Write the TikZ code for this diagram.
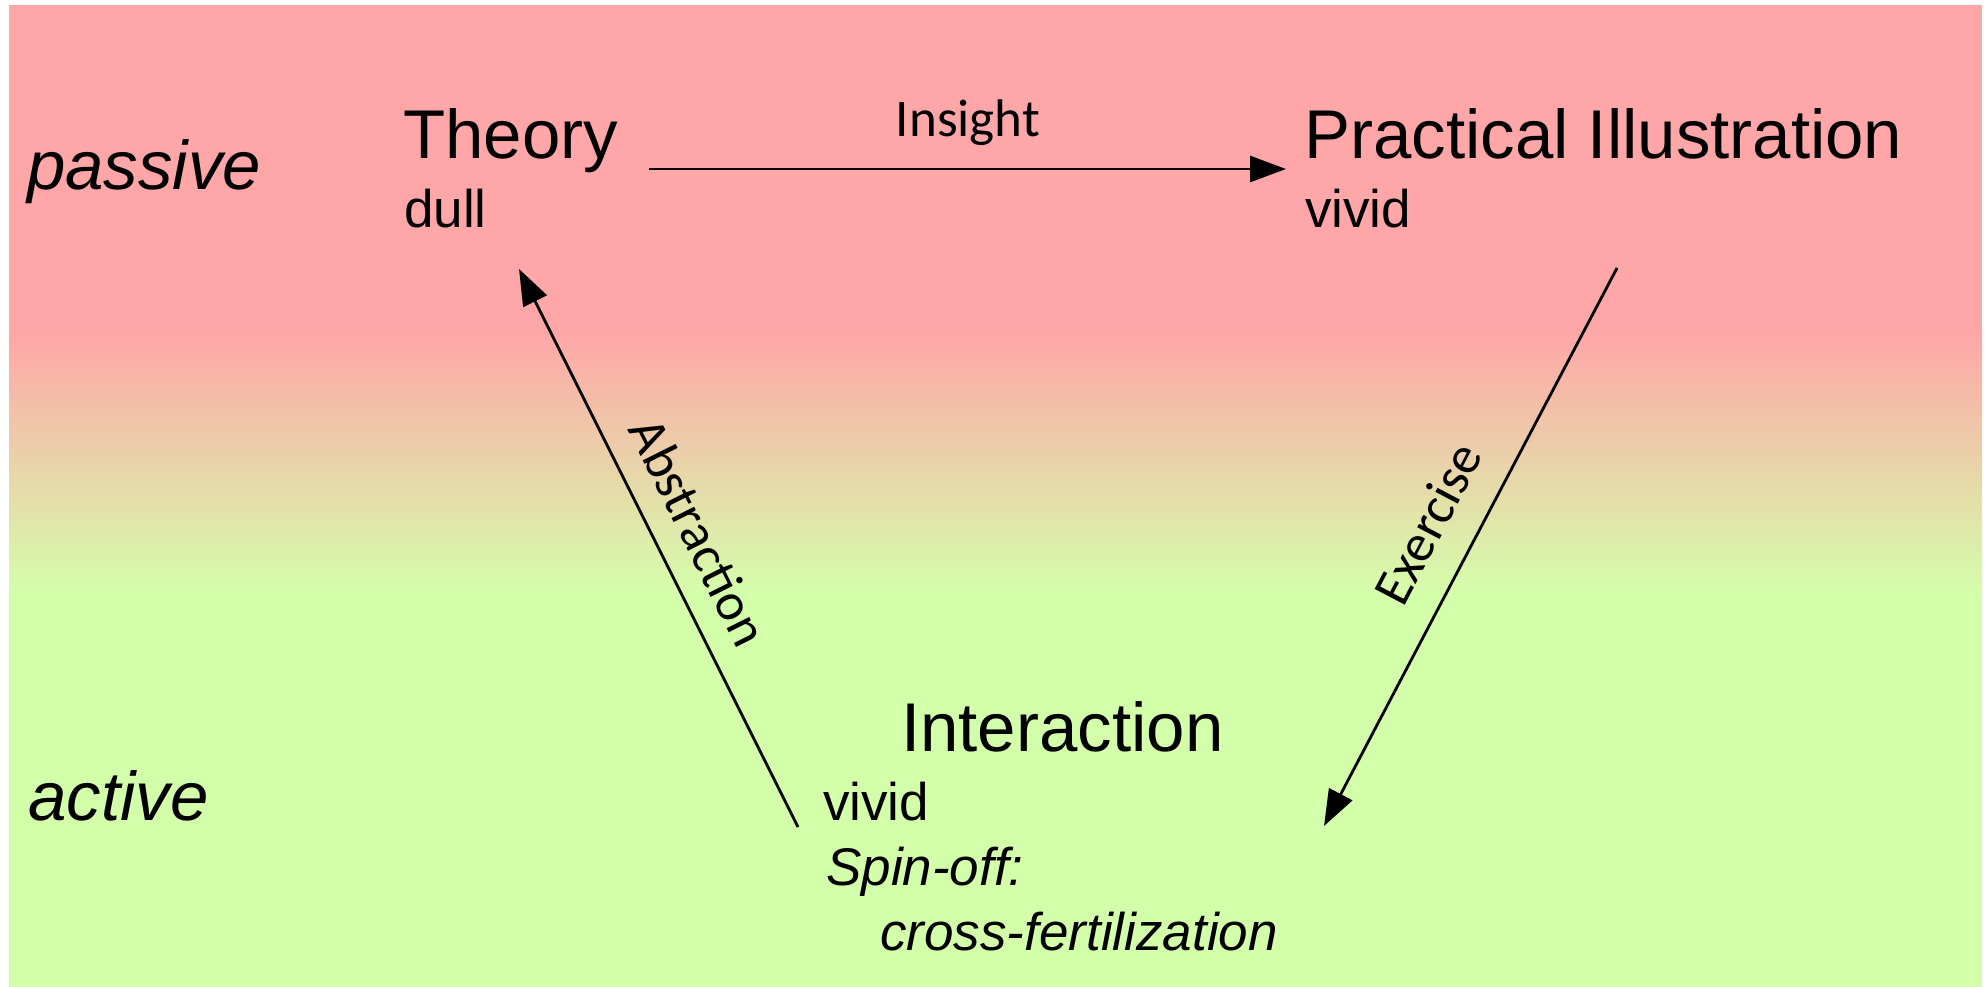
\documentclass[tikz,border=0pt]{standalone}
\usepackage{fontspec}
\setmainfont{Liberation Sans}
\newfontfamily\lblfont{Carlito}
\usetikzlibrary{arrows.meta}
\definecolor{pinkc}{RGB}{255,166,168}
\definecolor{greenc}{RGB}{212,255,170}
\begin{document}
\begin{tikzpicture}[x=1pt,y=-1pt,
  titletext/.style={anchor=base west, inner sep=0pt, font=\fontsize{69}{80}\selectfont},
  subtext/.style={anchor=base west, inner sep=0pt, font=\fontsize{53}{65}\selectfont},
  subitalic/.style={subtext, font=\fontsize{53}{65}\selectfont\itshape},
  sidetext/.style={anchor=base west, inner sep=0pt, font=\fontsize{69}{80}\selectfont\itshape},
  lbl/.style={inner sep=0pt, font=\lblfont\fontsize{53}{64}\selectfont},
  conn/.style={line width=2.8pt, -{Triangle[length=36pt,width=26pt]}}]
\useasboundingbox (0,0) rectangle (1986,987);
% background
\fill[white] (0,0) rectangle (1986,987);
\fill[pinkc] (9,5) rectangle (1982,331);
\shade[top color=pinkc, bottom color=greenc] (9,330) rectangle (1982,596);
\fill[greenc] (9,595) rectangle (1982,987);
% side labels
\node[sidetext] (passive) at (27,190) {passive};
\node[sidetext] (active) at (28,820) {active};
% Theory
\node[titletext] (theory) at (403,159) {Theory};
\node[subtext] (dull) at (404,228) {dull};
% Practical Illustration
\node[titletext] (prac) at (1304,159) {Practical Illustration};
\node[subtext] (pvivid) at (1305,228) {vivid};
% Interaction
\node[titletext] (inter) at (901,751) {Interaction};
\node[subtext] (ivivid) at (823,820) {vivid};
\node[subitalic] (spin) at (826,885) {Spin-off:};
\node[subitalic] (cross) at (880,950) {cross-fertilization};
% connector end points
\coordinate (insA) at (649,169);
\coordinate (insB) at (1286,169);
\coordinate (exA) at (1617,268);
\coordinate (exB) at (1324,826);
\coordinate (abA) at (798,827);
\coordinate (abB) at (519,269);
% connectors
\draw[conn] (insA) -- (insB);
\draw[conn] (exA) -- (exB);
\draw[conn] (abA) -- (abB);
% connector labels
\node[lbl, anchor=base] (insight) at (968,137) {Insight};
\node[lbl, rotate=62.3] (exercise) at (1428,523) {Exercise};
\node[lbl, rotate=-63.43] (abstraction) at (699,532) {Abstraction};
\end{tikzpicture}
\end{document}
